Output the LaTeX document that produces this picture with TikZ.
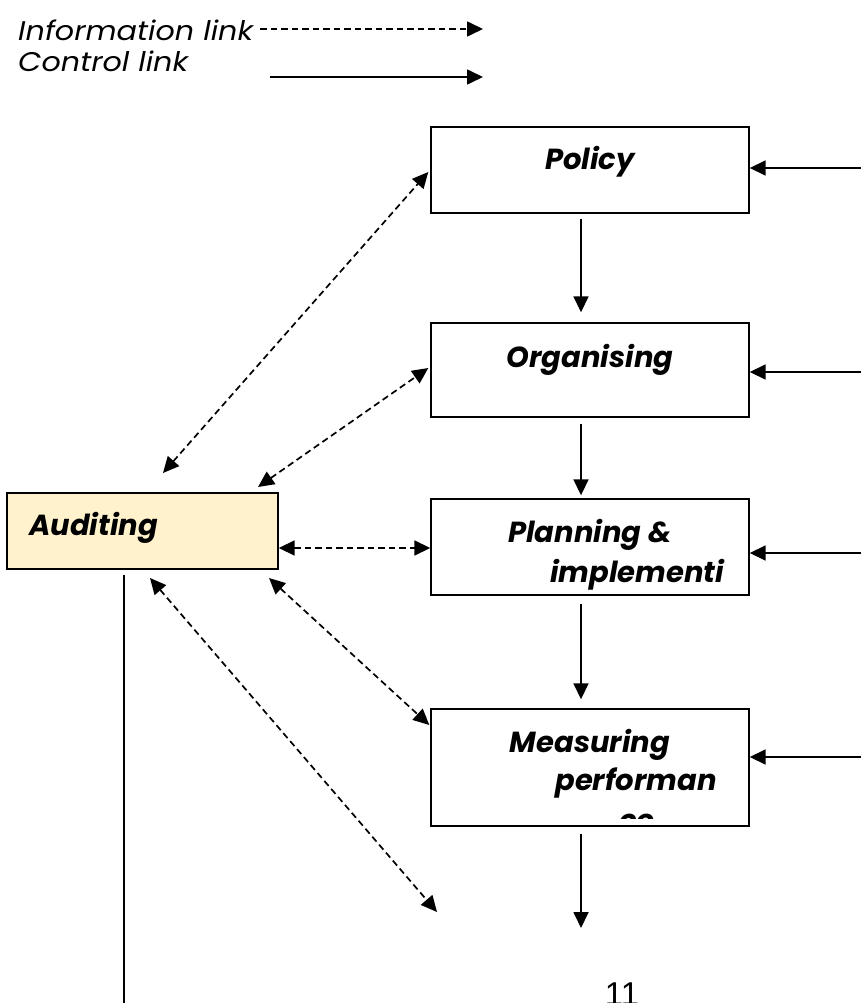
\documentclass[tikz,border=0pt]{standalone}
\usepackage{fontspec}
\setmainfont{Poppins}
\newfontfamily\digitfont{Liberation Sans}
\usetikzlibrary{arrows.meta}
\definecolor{cream}{HTML}{FFF2CC}
\tikzset{
  box/.style={draw=black, line width=1.4pt, rectangle, minimum width=318pt, inner sep=0pt},
  boxtext/.style={font=\fontsize{29}{32}\selectfont\bfseries\itshape, inner sep=0pt, anchor=base},
  legtext/.style={font=\fontsize{27}{30}\selectfont\itshape, inner sep=0pt, anchor=base west, xscale=1.12},
  tip/.tip={Triangle[length=16pt,width=15pt]},
  ctrl/.style={line width=1.7pt, -tip},
  info/.style={line width=1.7pt, dash pattern=on 6.5pt off 4pt, tip-tip},
  infoone/.style={line width=1.7pt, dash pattern=on 6.5pt off 4pt, -tip},
}
\begin{document}
\begin{tikzpicture}[x=1pt,y=-1pt]
\useasboundingbox (0,0) rectangle (861,1003);
\clip (0,0) rectangle (861,1003);
% legend
\node[legtext] (infolab) at (18,41) {Information link};
\node[legtext] (ctrllab) at (18,72) {Control link};
\coordinate (li1) at (260,29);
\coordinate (li2) at (483,29);
\coordinate (lc1) at (270,77);
\coordinate (lc2) at (483,77);
\draw[infoone] (li1) -- (li2);
\draw[ctrl] (lc1) -- (lc2);
% boxes
\node[box, minimum height=86pt] (policy) at (590,170) {};
\node[box, minimum height=94pt] (org) at (590,370) {};
\node[box, minimum height=96pt] (plan) at (590,547) {};
\node[box, minimum height=117pt] (meas) at (590,767.5) {};
\node[box, fill=cream, minimum width=271pt, minimum height=76pt] (aud) at (142.5,531) {};
% texts
\node[boxtext] (policyT) at (590,170) {Policy};
\node[boxtext] (orgT) at (590,367) {Organising};
\node[boxtext] (planT1) at (590,542) {Planning \&};
\node[boxtext] (planT2) at (637,582) {implementi};
\node[boxtext] (measT1) at (590,752) {Measuring};
\node[boxtext] (measT2) at (636,790) {performan};
\begin{scope}
\clip (431,709) rectangle (749,818);
\node[boxtext] (measT3) at (637,830) {ce};
\end{scope}
\node[boxtext, anchor=base west] (audT) at (29,535) {Auditing};
% control arrows down
\draw[ctrl] ([xshift=-9pt,yshift=-5pt]policy.south) -- ([xshift=-9pt,yshift=10pt]org.north);
\draw[ctrl] ([xshift=-9pt,yshift=-6pt]org.south) -- ([xshift=-9pt,yshift=3pt]plan.north);
\draw[ctrl] ([xshift=-9pt,yshift=-8pt]plan.south) -- ([xshift=-9pt,yshift=9pt]meas.north);
\coordinate (endd) at (581,928);
\draw[ctrl] ([xshift=-9pt,yshift=-7pt]meas.south) -- (endd);
% control arrows from right
\coordinate (r1) at (861,168);
\coordinate (r2) at (861,372);
\coordinate (r3) at (861,553);
\coordinate (r4) at (861,757);
\draw[ctrl] (r1) -- (policy.east |- r1);
\draw[ctrl] (r2) -- (org.east |- r2);
\draw[ctrl] (r3) -- (plan.east |- r3);
\draw[ctrl] (r4) -- (meas.east |- r4);
% information links
\coordinate (a1) at (163,473);
\coordinate (a2) at (258,487);
\coordinate (a4) at (269,578);
\coordinate (a5) at (150,578);
\coordinate (e5) at (437,912);
\draw[info] (a1) -- ([xshift=-2pt,yshift=-2pt]policy.west);
\draw[info] (a2) -- ([xshift=-2pt,yshift=2pt]org.west);
\draw[info] (aud.east |- 0,548) -- (plan.west |- 0,548);
\draw[info] (a4) -- ([xshift=-1pt]meas.west |- 0,725);
\draw[info] (a5) -- (e5);
% vertical line from auditing
\coordinate (v1) at (124,575);
\coordinate (v2) at (124,1003);
\draw[line width=1.5pt] (v1) -- (v2);
% page number
\node[font=\digitfont\fontsize{33}{36}\selectfont, inner sep=0pt, anchor=north] (pg) at (622,983) {11};
\end{tikzpicture}
\end{document}
